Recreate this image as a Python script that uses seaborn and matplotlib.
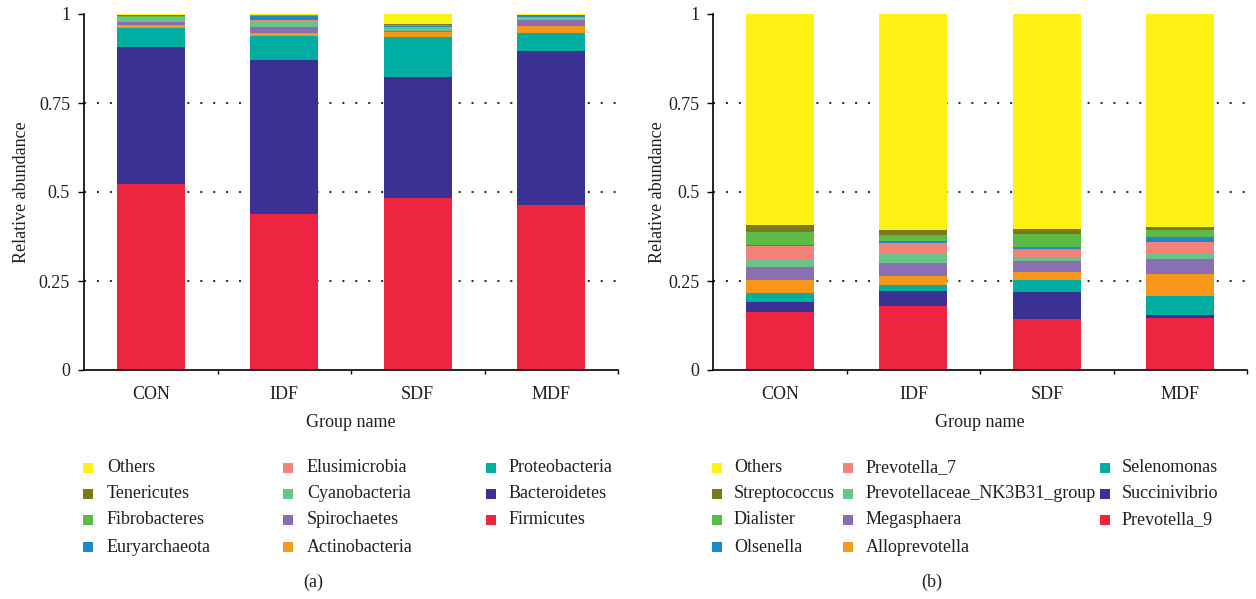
import numpy as np
import pandas as pd
import matplotlib
matplotlib.use("Agg")
import matplotlib.pyplot as plt
from matplotlib.patches import Rectangle
import seaborn as sns

# ---------------- data ----------------
groups = ["CON", "IDF", "SDF", "MDF"]

# panel (a): phylum level, bottom -> top
phyla = ["Firmicutes", "Bacteroidetes", "Proteobacteria", "Actinobacteria",
         "Spirochaetes", "Cyanobacteria", "Elusimicrobia", "Euryarchaeota",
         "Fibrobacteres", "Tenericutes", "Others"]
firmicutes     = [0.522, 0.438, 0.483, 0.463]
bacteroidetes  = [0.386, 0.433, 0.340, 0.433]
proteobacteria = [0.052, 0.068, 0.112, 0.050]
actinobacteria = [0.008, 0.008, 0.014, 0.021]
spirochaetes   = [0.009, 0.016, 0.004, 0.016]
cyanobacteria  = [0.012, 0.014, 0.008, 0.006]
elusimicrobia  = [0.002, 0.005, 0.003, 0.002]
euryarchaeota  = [0.001, 0.012, 0.001, 0.002]
fibrobacteres  = [0.002, 0.002, 0.003, 0.001]
tenericutes    = [0.003, 0.002, 0.004, 0.002]
others_a       = [0.003, 0.002, 0.028, 0.004]

# panel (b): genus level, bottom -> top
genera = ["Prevotella_9", "Succinivibrio", "Selenomonas", "Alloprevotella",
          "Megasphaera", "Prevotellaceae_NK3B31_group", "Prevotella_7",
          "Olsenella", "Dialister", "Streptococcus", "Others"]
prevotella_9   = [0.164, 0.180, 0.142, 0.147]
succinivibrio  = [0.028, 0.042, 0.076, 0.007]
selenomonas    = [0.025, 0.017, 0.034, 0.054]
alloprevotella = [0.036, 0.026, 0.023, 0.061]
megasphaera    = [0.036, 0.036, 0.032, 0.042]
nk3b31_group   = [0.022, 0.029, 0.011, 0.018]
prevotella_7   = [0.036, 0.026, 0.021, 0.030]
olsenella      = [0.004, 0.005, 0.006, 0.016]
dialister      = [0.036, 0.019, 0.037, 0.018]
streptococcus  = [0.019, 0.012, 0.014, 0.009]
others_b       = [0.594, 0.608, 0.604, 0.598]

yticks = [0, 0.25, 0.5, 0.75, 1]
ytick_labels = ["0", "0.25", "0.5", "0.75", "1"]

# colours bottom -> top (shared by both panels)
colors = ["#EE2541", "#3B3192", "#00ADA1", "#F7981D", "#8A70B1", "#6CC38A",
          "#F3827A", "#1F88CA", "#5BBB46", "#7A7A1C", "#FFF212"]

series_a = [firmicutes, bacteroidetes, proteobacteria, actinobacteria,
            spirochaetes, cyanobacteria, elusimicrobia, euryarchaeota,
            fibrobacteres, tenericutes, others_a]
series_b = [prevotella_9, succinivibrio, selenomonas, alloprevotella,
            megasphaera, nk3b31_group, prevotella_7, olsenella, dialister,
            streptococcus, others_b]

# ---------------- style ----------------
sns.set_theme(style="white")
plt.rcParams["font.family"] = ["Liberation Serif", "DejaVu Serif"]
TXT = "#231F20"
FS = 13

W, H = 1256, 599
fig = plt.figure(figsize=(W / 100, H / 100), dpi=100)

def px_axes(left, right, top, bottom):
    return fig.add_axes([left / W, 1 - bottom / H, (right - left) / W, (bottom - top) / H])

ax_a = px_axes(84, 618, 14, 370)
ax_b = px_axes(713.3, 1247, 14, 370)

def draw_panel(ax, series):
    arr = np.array(series, dtype=float)
    cum = np.cumsum(arr, axis=0)
    for k in range(len(series) - 1, -1, -1):
        df = pd.DataFrame({"group": groups, "value": cum[k]})
        sns.barplot(data=df, x="group", y="value", order=groups, color=colors[k],
                    saturation=1, width=0.51, errorbar=None, linewidth=0, ax=ax, zorder=2)
    for yv in [0.25, 0.5, 0.75]:
        ax.axhline(yv, color="#333333", linewidth=1.5, linestyle=(0, (1, 5.2)), zorder=0)
    ax.set_xlim(-0.5, 3.5)
    ax.set_ylim(0, 1)
    ax.set_yticks(yticks)
    ax.set_yticklabels(ytick_labels)
    ax.set_xticks([0.5, 1.5, 2.5, 3.5], minor=True)
    for s in ["top", "right"]:
        ax.spines[s].set_visible(False)
    for s in ["left", "bottom"]:
        ax.spines[s].set_color("black")
        ax.spines[s].set_linewidth(1.2)
    ax.tick_params(axis="y", which="major", direction="out", length=4, width=1,
                   color="black", pad=6, labelsize=FS, labelcolor=TXT, left=True)
    ax.tick_params(axis="x", which="major", length=0, pad=11.5, labelsize=FS,
                   labelcolor=TXT, bottom=True)
    ax.tick_params(axis="x", which="minor", direction="out", length=3, width=1,
                   color="black", bottom=True)
    ax.set_xlabel("Group name", fontsize=FS, color=TXT)
    ax.set_ylabel("Relative abundance", fontsize=FS, color=TXT)
    ax.xaxis.set_label_coords(0.5, -0.124)
    ax.grid(False)

draw_panel(ax_a, series_a)
draw_panel(ax_b, series_b)
ax_a.yaxis.set_label_coords((30 - 84) / 534, 0.5)
ax_b.yaxis.set_label_coords((666 - 713.3) / 533.7, 0.5)

# ---------------- legends ----------------
rows_y = [468, 494, 520, 547]

def draw_legend(names, cols_x, text_x):
    # names listed top -> bottom (reverse of stack), filled column-wise, 4 per column
    for i, (name, col) in enumerate(names):
        c, r = divmod(i, 4)
        y = rows_y[r]
        x0 = cols_x[c]
        fig.add_artist(Rectangle((x0 / W, 1 - (y + 5) / H), 10 / W, 10 / H,
                                 transform=fig.transFigure, facecolor=col,
                                 edgecolor="none"))
        fig.text(text_x[c] / W, 1 - y / H, name, fontsize=FS, color=TXT,
                 ha="left", va="center")

leg_a = list(zip(phyla[::-1], colors[::-1]))
leg_b = list(zip(genera[::-1], colors[::-1]))
draw_legend(leg_a, [83, 283, 486], [107, 307, 509])
draw_legend(leg_b, [712, 843, 1100], [734, 866, 1122])

fig.text(313 / W, 1 - 582 / H, "(a)", fontsize=FS, color=TXT, ha="center", va="center")
fig.text(932 / W, 1 - 582 / H, "(b)", fontsize=FS, color=TXT, ha="center", va="center")

fig.savefig("out.png", dpi=100, facecolor="white")
